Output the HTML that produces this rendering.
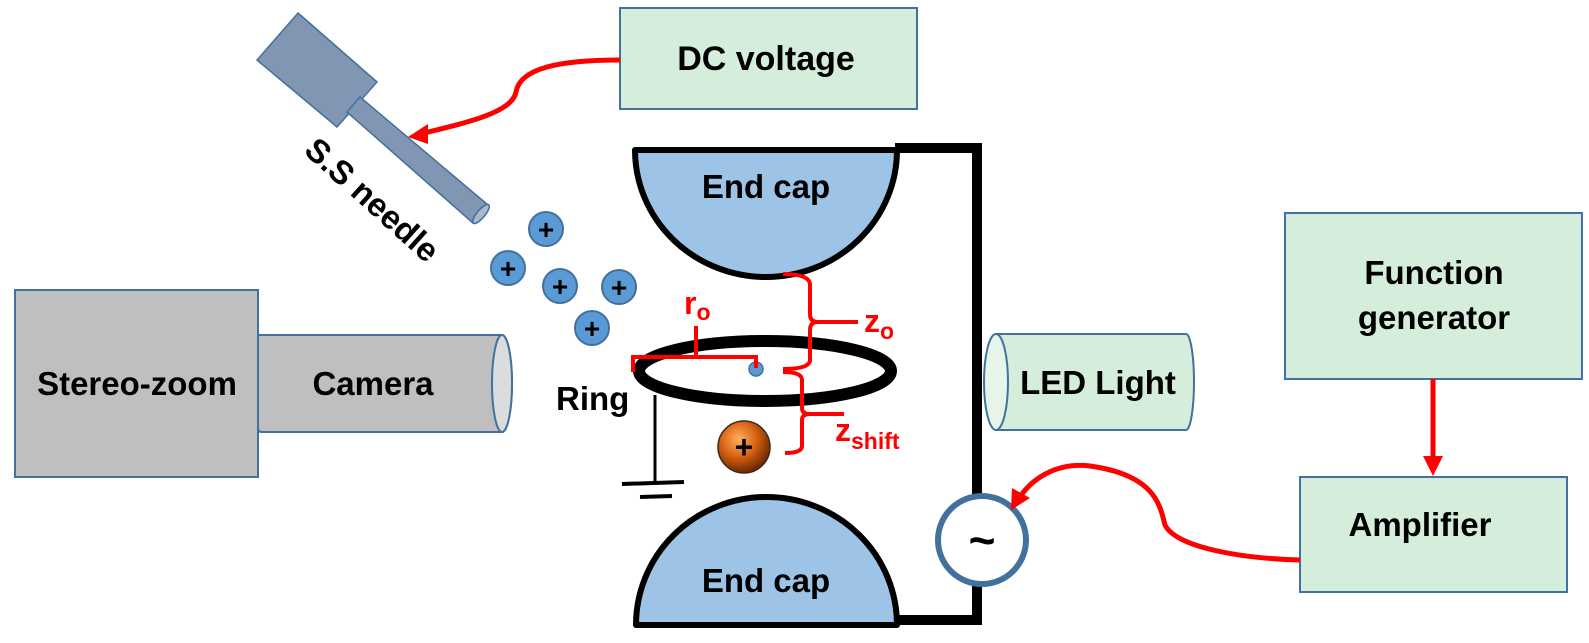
<!DOCTYPE html>
<html><head><meta charset="utf-8"><style>
html,body{margin:0;padding:0;background:#fff;}
svg{display:block;}
text{font-family:"Liberation Sans",sans-serif;font-weight:bold;}
</style></head><body>
<svg width="1589" height="643" viewBox="0 0 1589 643" xmlns="http://www.w3.org/2000/svg">
<defs>
<radialGradient id="og" cx="0.4" cy="0.35" r="0.7">
<stop offset="0" stop-color="#ffb060"/><stop offset="0.5" stop-color="#d86010"/><stop offset="1" stop-color="#5a2000"/>
</radialGradient>
</defs>
<!-- Needle -->
<polygon points="298,13 377,82 337,127 257,60" fill="#8096b3" stroke="#41719c" stroke-width="1.5"/>
<polygon points="360,97 488,205 473,223 347,112" fill="#8096b3" stroke="#41719c" stroke-width="1.5"/>
<ellipse cx="481" cy="214" rx="4" ry="12" transform="rotate(40 481 214)" fill="#aab8cc" stroke="#41719c" stroke-width="1.5"/>
<text x="372" y="211" font-size="33" text-anchor="middle" transform="rotate(42 372 200)">S.S needle</text>
<!-- DC voltage -->
<rect x="620" y="8" width="297" height="101" fill="#d5eedb" stroke="#41719c" stroke-width="2"/>
<text x="766" y="70" font-size="34" text-anchor="middle">DC voltage</text>
<path d="M620,60 C560,60 520,68 516,92 C512,112 470,122 420,134" fill="none" stroke="#f00" stroke-width="5"/>
<polygon points="408,137 428,124 428,144" fill="#f00"/>
<!-- Ions -->
<g fill="#5b9bd5" stroke="#41719c" stroke-width="2">
<circle cx="546" cy="229" r="17"/><circle cx="508" cy="268" r="17"/><circle cx="560" cy="286" r="17"/><circle cx="619" cy="287" r="17"/><circle cx="592" cy="328" r="17"/>
</g>
<g font-size="28" text-anchor="middle" fill="#000">
<text x="546" y="239">+</text><text x="508" y="278">+</text><text x="560" y="296">+</text><text x="619" y="297">+</text><text x="592" y="338">+</text>
</g>
<!-- Stereo-zoom / Camera -->
<rect x="15" y="290" width="243" height="187" fill="#bfbfbf" stroke="#41719c" stroke-width="2"/>
<text x="137" y="395" font-size="33" text-anchor="middle">Stereo-zoom</text>
<path d="M258,335 L502,335 A10,48.5 0 0 1 502,432 L262,432 Q258,432 258,428 Z" fill="#bfbfbf" stroke="#41719c" stroke-width="2"/>
<ellipse cx="502" cy="383.5" rx="10" ry="48.5" fill="#dcdcdc" stroke="#41719c" stroke-width="2"/>
<text x="373" y="395" font-size="33" text-anchor="middle">Camera</text>
<!-- Wires -->
<polyline points="895,148 977,148 977,620 895,620" fill="none" stroke="#000" stroke-width="10"/>
<!-- Top end cap -->
<path d="M635,150 L897,150 A131,127 0 0 1 635,150 Z" fill="#9dc3e6" stroke="#000" stroke-width="6" stroke-linejoin="round"/>
<text x="766" y="198" font-size="33" text-anchor="middle">End cap</text>
<!-- Bottom end cap -->
<path d="M636,625 L897,625 A130.5,128 0 0 0 636,625 Z" fill="#9dc3e6" stroke="#000" stroke-width="6" stroke-linejoin="round"/>
<text x="766" y="592" font-size="33" text-anchor="middle">End cap</text>
<!-- Ground -->
<line x1="655" y1="395" x2="655" y2="483" stroke="#000" stroke-width="3"/>
<line x1="622" y1="484" x2="684" y2="482" stroke="#000" stroke-width="4"/>
<line x1="640" y1="497" x2="672" y2="496" stroke="#000" stroke-width="4"/>
<text x="556" y="410" font-size="33">Ring</text>
<!-- Ring -->
<ellipse cx="765" cy="371" rx="126" ry="30" fill="none" stroke="#000" stroke-width="12"/>
<circle cx="756" cy="369" r="7" fill="#5b9bd5" stroke="#41719c" stroke-width="1.5"/>
<!-- r0 bracket -->
<polyline points="633,372 633,357 756,357 756,368" fill="none" stroke="#f00" stroke-width="4"/>
<line x1="696" y1="357" x2="696" y2="326" stroke="#f00" stroke-width="4"/>
<text x="684" y="314" font-size="32" fill="#f00">r<tspan font-size="23" dy="6">o</tspan></text>
<!-- z0 bracket -->
<path d="M783,274 Q810,274 810,285 L810,314 Q810,322 818,322 L858,322 M818,322 Q810,322 810,330 L810,360 Q810,369 783,369" fill="none" stroke="#f00" stroke-width="4"/>
<text x="864" y="332" font-size="32" fill="#f00">z<tspan font-size="23" dy="7">o</tspan></text>
<!-- zshift bracket -->
<path d="M783,372 Q802,372 802,380 L802,408 Q802,414 810,414 L844,414 M810,414 Q802,414 802,420 L802,446 Q802,453 785,453" fill="none" stroke="#f00" stroke-width="4"/>
<text x="835" y="441" font-size="32" fill="#f00">z<tspan font-size="23" dy="8">shift</tspan></text>
<!-- orange ion -->
<circle cx="744" cy="447" r="26" fill="url(#og)" stroke="#3a2a1a" stroke-width="1.5"/>
<text x="744" y="458" font-size="32" text-anchor="middle">+</text>
<!-- LED -->
<path d="M996,334 L1186,334 A8,48 0 0 1 1186,430 L996,430 Z" fill="#d5eedb" stroke="#41719c" stroke-width="2"/>
<ellipse cx="996" cy="382" rx="12" ry="48" fill="#e6f4ea" stroke="#41719c" stroke-width="2"/>
<text x="1098" y="394" font-size="33" text-anchor="middle">LED Light</text>
<!-- AC source -->
<circle cx="982" cy="540" r="44" fill="#fff" stroke="#41719c" stroke-width="6"/>
<text x="982" y="556" font-size="46" text-anchor="middle">~</text>
<!-- Function generator / Amplifier -->
<rect x="1285" y="213" width="297" height="166" fill="#d5eedb" stroke="#41719c" stroke-width="2"/>
<text x="1434" y="284" font-size="33" text-anchor="middle">Function</text>
<text x="1434" y="329" font-size="33" text-anchor="middle">generator</text>
<line x1="1433" y1="379" x2="1433" y2="458" stroke="#f00" stroke-width="5"/>
<polygon points="1423,456 1443,456 1433,476" fill="#f00"/>
<rect x="1300" y="477" width="267" height="115" fill="#d5eedb" stroke="#41719c" stroke-width="2"/>
<text x="1420" y="536" font-size="33" text-anchor="middle">Amplifier</text>
<path d="M1300,560 C1230,558 1175,545 1165,525 C1160,505 1155,475 1090,466 C1055,462 1030,480 1018,500" fill="none" stroke="#f00" stroke-width="5"/>
<polygon points="1011,510 1012,488 1030,498" fill="#f00"/>
</svg>
</body></html>
